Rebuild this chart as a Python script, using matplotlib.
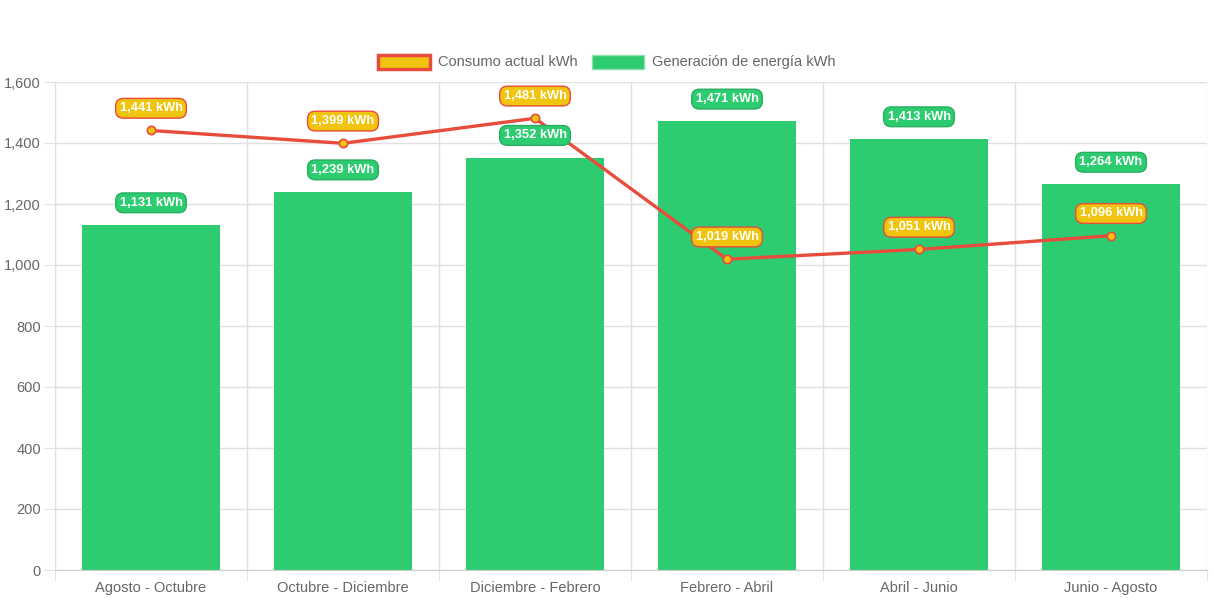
import matplotlib.pyplot as plt
from matplotlib.patches import Patch
import numpy as np

plt.rcParams['font.family'] = ['Liberation Sans', 'DejaVu Sans']

# Datos
periodos = ['Agosto - Octubre', 'Octubre - Diciembre', 'Diciembre - Febrero',
            'Febrero - Abril', 'Abril - Junio', 'Junio - Agosto']
consumo = [1441, 1399, 1481, 1019, 1051, 1096]
generacion = [1131, 1239, 1352, 1471, 1413, 1264]
y_ticks = [0, 200, 400, 600, 800, 1000, 1200, 1400, 1600]

rojo = '#e74c3c'
amarillo = '#f1c40f'
verde = '#2ecc71'
gris = '#666666'
grid_color = '#e0e0e0'

fig = plt.figure(figsize=(12.13, 6.06), dpi=100)
ax = fig.add_axes([55 / 1213, 1 - 570 / 606, 1152 / 1213, 488 / 606])

x = np.arange(len(periodos))

ax.bar(x, generacion, width=0.72, color=verde, zorder=2)
ax.plot(x, consumo, color=rojo, linewidth=2.4, marker='o', markersize=6,
        markerfacecolor=amarillo, markeredgecolor=rojo, markeredgewidth=1.2, zorder=3)

# Etiquetas de valores
caja = 'round,pad=0.3,rounding_size=0.6'
for xi, v in zip(x, generacion):
    ax.annotate(f'{v:,} kWh', (xi, v), xytext=(0, 16), textcoords='offset points',
                ha='center', va='center', color='white', fontsize=9.3, fontweight='bold',
                bbox=dict(boxstyle=caja, fc=verde, ec='#27ae60', lw=1),
                zorder=5)
for xi, v in zip(x, consumo):
    ax.annotate(f'{v:,} kWh', (xi, v), xytext=(0, 16), textcoords='offset points',
                ha='center', va='center', color='white', fontsize=9.3, fontweight='bold',
                bbox=dict(boxstyle=caja, fc=amarillo, ec=rojo, lw=1),
                zorder=6)

ax.set_xlim(-0.5, len(periodos) - 0.5)
ax.set_ylim(0, 1600)
ax.set_yticks(y_ticks)
ax.set_yticklabels([f'{t:,}' for t in y_ticks])
ax.set_xticks(x)
ax.set_xticklabels(periodos)
ax.set_xticks(np.arange(-0.5, len(periodos)), minor=True)

ax.grid(axis='y', color=grid_color, linewidth=1, zorder=0)
ax.grid(axis='x', which='minor', color=grid_color, linewidth=1, zorder=0)

ax.tick_params(axis='y', length=8, color=grid_color, labelcolor=gris, labelsize=10.5, pad=2)
ax.tick_params(axis='x', which='major', length=0, labelcolor=gris, labelsize=10.5, pad=8)
ax.tick_params(axis='x', which='minor', length=8, color=grid_color)

for s in ['top', 'right']:
    ax.spines[s].set_visible(False)
ax.spines['left'].set_color(grid_color)
ax.spines['bottom'].set_color('#cccccc')

handles = [Patch(facecolor=amarillo, edgecolor=rojo, linewidth=2.5, label='Consumo actual kWh'),
           Patch(facecolor=verde, edgecolor='#8be0ad', linewidth=1, label='Generación de energía kWh')]
fig.legend(handles=handles, loc='center', bbox_to_anchor=(0.5, 1 - 62 / 606), ncol=2,
           frameon=False, fontsize=10.5, labelcolor=gris, handlelength=3.6, handleheight=1.1,
           columnspacing=1.0, handletextpad=0.5)

fig.savefig('out.png', dpi=100)
